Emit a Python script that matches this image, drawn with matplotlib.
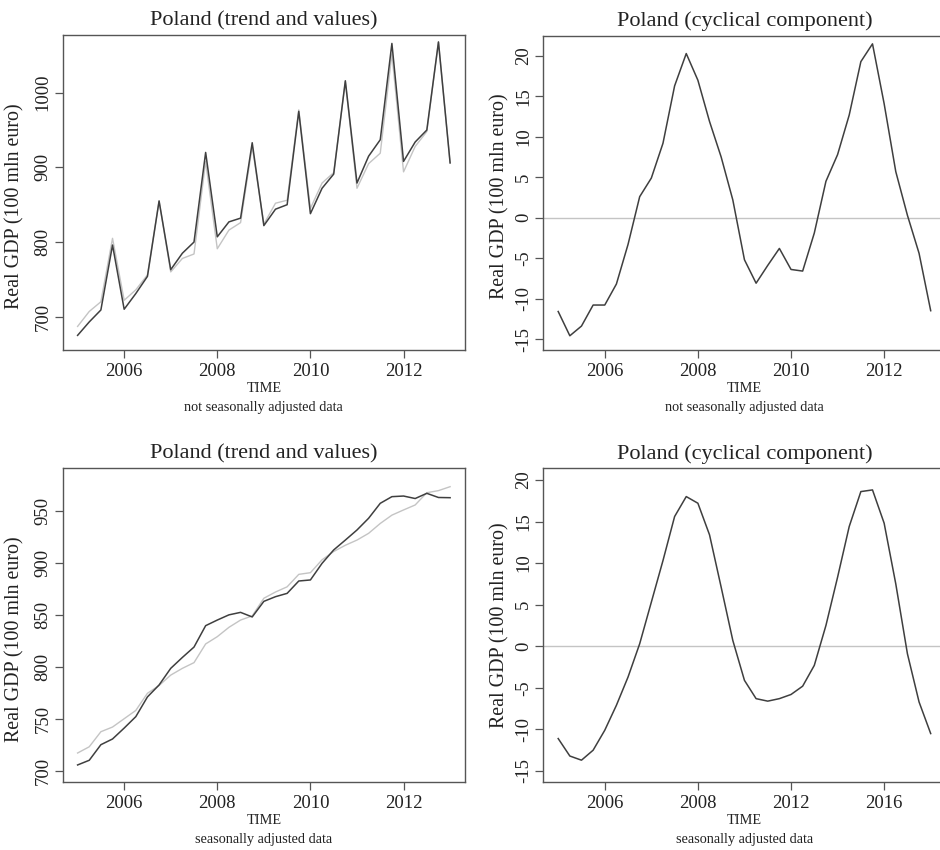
import numpy as np
import matplotlib
matplotlib.use("Agg")
import matplotlib.pyplot as plt

plt.rcParams['font.family'] = ['Liberation Serif', 'DejaVu Serif']
plt.rcParams['axes.unicode_minus'] = False

# quarterly time index 2005Q1 .. 2013Q1
time = 2005.0 + np.arange(33) / 4.0

# not seasonally adjusted: observed values (dark) and fitted trend (light)
nsa_values = [675, 693, 709, 796, 710, 731, 754, 855, 763, 785, 800, 920,
              807, 827, 832, 933, 822, 844, 850, 975, 838, 872, 891, 1016,
              879, 915, 937, 1066, 908, 934, 950, 1068, 906]
nsa_trend = [687, 707, 720, 805, 722, 736, 756, 855, 760, 778, 784, 908,
             791, 816, 826, 928, 824, 852, 856, 977, 845, 879, 893, 1015,
             872, 905, 919, 1052, 894, 928, 948, 1068, 906]
nsa_cycle = [-11.6, -14.6, -13.4, -10.8, -10.8, -8.2, -3.3, 2.6, 4.9, 9.2,
             16.3, 20.3, 17.0, 11.9, 7.5, 2.2, -5.2, -8.1, -5.9, -3.8,
             -6.4, -6.6, -1.9, 4.5, 7.8, 12.7, 19.3, 21.5, 14.1, 5.7,
             0.3, -4.4, -11.5]

# seasonally adjusted
sa_values = [705.5, 710, 725, 730.5, 741, 752, 771, 782.5, 798.5, 809, 819,
             839.6, 845, 850, 852.4, 848, 863, 867.5, 870.7, 882.6, 883.6,
             899.6, 912.5, 922, 931.7, 943, 957.4, 963.8, 964.4, 962, 967,
             963, 962.8]
sa_trend = [717, 723, 737.5, 742, 750, 758, 774.5, 782, 792, 798.5, 804, 822,
            829, 838, 845, 849, 866, 872, 877, 889, 890.6, 903, 911, 917, 922,
            928.5, 938, 946, 951, 955.8, 967.6, 969.6, 973.4]
sa_cycle = [-11.1, -13.2, -13.7, -12.5, -10.1, -7.1, -3.7, 0.3, 5.3, 10.3,
            15.6, 18.0, 17.2, 13.4, 7.1, 0.7, -4.1, -6.3, -6.6, -6.3, -5.8,
            -4.8, -2.3, 2.5, 8.3, 14.4, 18.6, 18.8, 14.8, 7.5, -0.9, -6.7,
            -10.5]

xticks = [2006, 2008, 2010, 2012]
xticklabels = ["2006", "2008", "2010", "2012"]
xticklabels_br = ["2006", "2008", "2012", "2016"]

DARK = "#3f3f3f"
LIGHT = "#c4c4c4"
BOX = "#555555"

W, H = 940, 850
fig = plt.figure(figsize=(9.4, 8.5), dpi=100)

def px_axes(left, top, right, bottom):
    return fig.add_axes([left / W, 1 - bottom / H, (right - left) / W, (bottom - top) / H])

def style(ax, ylim, yticks, title, sub, xlabels, ylab_x, ylab_y):
    ax.set_xlim(2004.68, 2013.32)
    ax.set_ylim(*ylim)
    ax.set_xticks(xticks)
    ax.set_xticklabels(xlabels)
    ax.set_yticks(yticks)
    ax.set_yticklabels([str(v) for v in yticks], rotation=90, va='center')
    ax.tick_params(axis='both', direction='out', length=6, width=0.9,
                   color=BOX, labelsize=13.5, labelcolor="#222222")
    ax.tick_params(axis='x', pad=3)
    ax.tick_params(axis='y', pad=2)
    for s in ax.spines.values():
        s.set_color(BOX)
        s.set_linewidth(1.0)
    ax.set_title(title, fontsize=16, color="#222222", pad=7)
    ax.set_ylabel("Real GDP (100 mln euro)", fontsize=14.4, color="#222222")
    ax.yaxis.set_label_coords(ylab_x, ylab_y)
    ax.annotate("TIME", xy=(0.5, 0), xycoords='axes fraction',
                xytext=(0, -38), textcoords='offset pixels',
                ha='center', va='center', fontsize=10.3, color="#222222")
    ax.annotate(sub, xy=(0.5, 0), xycoords='axes fraction',
                xytext=(0, -57), textcoords='offset pixels',
                ha='center', va='center', fontsize=10.3, color="#222222")

# top-left
ax1 = px_axes(62.7, 35, 465, 350)
ax1.plot(time, nsa_trend, color=LIGHT, lw=1.0)
ax1.plot(time, nsa_values, color=DARK, lw=1.1)
style(ax1, (655.4, 1077.3), [700, 800, 900, 1000],
      "Poland (trend and values)", "not seasonally adjusted data", xticklabels,
      -0.096, 0.455)

# top-right
ax2 = px_axes(543.3, 36, 945.6, 350)
ax2.axhline(0, color=LIGHT, lw=1.0)
ax2.plot(time, nsa_cycle, color=DARK, lw=1.1)
style(ax2, (-16.36, 22.47), [-15, -10, -5, 0, 5, 10, 15, 20],
      "Poland (cyclical component)", "not seasonally adjusted data", xticklabels,
      -0.085, 0.49)

# bottom-left
ax3 = px_axes(62.7, 468.3, 465, 782.3)
ax3.plot(time, sa_trend, color=LIGHT, lw=1.0)
ax3.plot(time, sa_values, color=DARK, lw=1.1)
style(ax3, (688.8, 991.1), [700, 750, 800, 850, 900, 950],
      "Poland (trend and values)", "seasonally adjusted data", xticklabels,
      -0.096, 0.455)

# bottom-right
ax4 = px_axes(543.3, 468.3, 945.6, 782.3)
ax4.axhline(0, color=LIGHT, lw=1.0)
ax4.plot(time, sa_cycle, color=DARK, lw=1.1)
style(ax4, (-16.36, 21.4), [-15, -10, -5, 0, 5, 10, 15, 20],
      "Poland (cyclical component)", "seasonally adjusted data", xticklabels_br,
      -0.085, 0.5)

fig.savefig("out.png", dpi=100)
